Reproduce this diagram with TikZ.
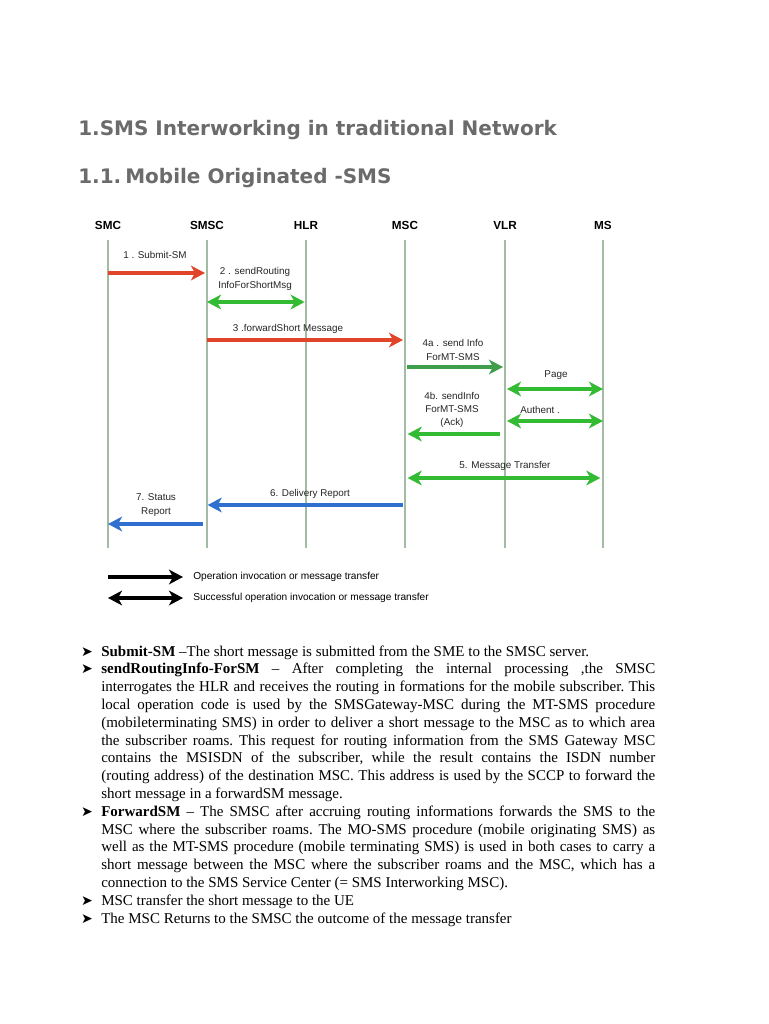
\documentclass[tikz,border=0pt]{standalone}
\usepackage{fontspec}
\setmainfont{Liberation Serif}
\newfontfamily\headfont{DejaVu Sans}
\newfontfamily\diagfont{Liberation Sans}
\newfontfamily\symfont{DejaVu Sans}
\usetikzlibrary{arrows.meta,positioning}

\definecolor{headgray}{HTML}{6B6B6B}
\definecolor{lifegreen}{HTML}{A3BBA3}
\definecolor{msgred}{HTML}{E0452A}
\definecolor{msggreen}{HTML}{33BB33}
\definecolor{msgdkgreen}{HTML}{3E9E4A}
\definecolor{msgblue}{HTML}{2E6FD0}

\begin{document}
\begin{tikzpicture}[
  x=0.75pt, y=-0.75pt,
  heading/.style={anchor=base west, inner sep=0, text=headgray,
    font=\headfont\bfseries\fontsize{15}{18}\selectfont},
  entity/.style={inner sep=0, font=\diagfont\bfseries\fontsize{8.8}{10}\selectfont},
  msglabel/.style={inner sep=0, align=center, text=black!85,
    font=\diagfont\fontsize{7.4}{10}\selectfont},
  life/.style={draw=lifegreen, line width=1pt},
  msg/.style={line width=2.8pt, -{Stealth[length=10.5pt, width=11pt, inset=3pt]}},
  dmsg/.style={line width=2.8pt, {Stealth[length=10.5pt, width=11pt, inset=3pt]}-{Stealth[length=10.5pt, width=11pt, inset=3pt]}},
  legtext/.style={anchor=west, inner sep=0, font=\diagfont\fontsize{7.6}{9}\selectfont},
  item/.style={anchor=base west, inner sep=0, text width=415.5pt, align=justify,
    font=\frenchspacing\fontsize{11.25}{13.35}\selectfont},
  bullet/.style={anchor=base, inner sep=0, font=\symfont\fontsize{10.5}{11}\selectfont}
]
  \useasboundingbox[fill=white] (0,0) rectangle (768,1024);

  % Headings
  \node[heading] (title) at (78,135) {1.SMS Interworking in traditional Network};
  \node[heading] (subtitle) at (78,183) {1.1.\hspace{3pt}Mobile Originated -SMS};

  % Entities and lifelines
  \coordinate (top) at (0,240);
  \coordinate (bottom) at (0,548);
  \foreach \name/\x/\txt in {smc/108/SMC, smsc/207/SMSC, hlr/306/HLR,
                             msc/405/MSC, vlr/505/VLR, ms/603/MS} {
    \node[entity] (\name) at (\x,225) {\txt};
    \draw[life] (\name |- top) -- (\name |- bottom);
  }

  % Message levels
  \coordinate (m1) at (0,273);
  \coordinate (m2) at (0,302);
  \coordinate (m3) at (0,340);
  \coordinate (m4a) at (0,367);
  \coordinate (mpage) at (0,389);
  \coordinate (mauth) at (0,421);
  \coordinate (m4b) at (0,434);
  \coordinate (m5) at (0,478);
  \coordinate (m6) at (0,505);
  \coordinate (m7) at (0,524);

  % Messages
  \draw[msg, msgred, shorten >=1.5pt] (smc |- m1) -- (smsc |- m1);
  \draw[dmsg, msggreen, shorten >=1pt] (smsc |- m2) -- (hlr |- m2);
  \draw[msg, msgred, shorten >=1.5pt] (smsc |- m3) -- (msc |- m3);
  \draw[msg, msgdkgreen, shorten <=1.5pt, shorten >=1.5pt] (msc |- m4a) -- (vlr |- m4a);
  \draw[dmsg, msggreen, shorten <=1.5pt, shorten >=0pt] (vlr |- mpage) -- (ms |- mpage);
  \draw[dmsg, msggreen, shorten <=1.5pt, shorten >=0pt] (vlr |- mauth) -- (ms |- mauth);
  \draw[msg, msggreen, shorten <=4pt, shorten >=2pt] (vlr |- m4b) -- (msc |- m4b);
  \draw[dmsg, msggreen, shorten <=2pt, shorten >=2pt] (msc |- m5) -- (ms |- m5);
  \draw[msg, msgblue, shorten <=1.5pt, shorten >=0.5pt] (msc |- m6) -- (smsc |- m6);
  \draw[msg, msgblue, shorten <=3pt, shorten >=0pt] (smsc |- m7) -- (smc |- m7);

  % Message labels
  \node[msglabel] (l1) at (155,255) {1 . Submit-SM};
  \node[msglabel] (l2) at (255,279) {2 . sendRouting\\InfoForShortMsg};
  \node[msglabel] (l3) at (288,329) {3 .forwardShort Message};
  \node[msglabel] (l4a) at (453,350) {4a . send Info\\ForMT-SMS};
  \node[msglabel] (lpage) at (556,375) {Page};
  \node[msglabel] (l4b) at (452,410) {4b. sendInfo\\ForMT-SMS\\(Ack)};
  \node[msglabel] (lauth) at (540,410) {Authent .};
  \node[msglabel] (l5) at (505,466) {5. Message Transfer};
  \node[msglabel] (l6) at (310,494) {6. Delivery Report};
  \node[msglabel] (l7) at (156,505) {7. Status\\Report};

  % Legend
  \coordinate (lg1) at (108,577);
  \coordinate (lg2) at (108,598);
  \node[legtext] (lt1) at (193,577) {Operation invocation or message transfer};
  \node[legtext] (lt2) at (193,598) {Successful operation invocation or message transfer};
  \draw[msg, black, shorten >=7.5pt] (lg1) -- (lt1.west);
  \draw[dmsg, black, shorten >=7.5pt] (lg2) -- (lt2.west);

  % Bullet list
  \node[item] (it1) at (101,656) {\textbf{Submit-SM} –The short message is submitted from the SME to the SMSC server.};
  \node[item] (it2) at (101,673.8) {\textbf{sendRoutingInfo-ForSM} – After completing the internal processing ,the SMSC\linebreak
    interrogates the HLR and receives the routing in formations for the mobile subscriber. This\linebreak
    local operation code is used by the SMSGateway-MSC during the MT-SMS procedure\linebreak
    (mobileterminating SMS) in order to deliver a short message to the MSC as to which area\linebreak
    the subscriber roams. This request for routing information from the SMS Gateway MSC\linebreak
    contains the MSISDN of the subscriber, while the result contains the ISDN number\linebreak
    (routing address) of the destination MSC. This address is used by the SCCP to forward the\linebreak
    short message in a forwardSM message.};
  \node[item] (it3) at (101,816.2) {\textbf{ForwardSM} – The SMSC after accruing routing informations forwards the SMS to the\linebreak
    MSC where the subscriber roams. The MO-SMS procedure (mobile originating SMS) as\linebreak
    well as the MT-SMS procedure (mobile terminating SMS) is used in both cases to carry a\linebreak
    short message between the MSC where the subscriber roams and the MSC, which has a\linebreak
    connection to the SMS Service Center (= SMS Interworking MSC).};
  \node[item] (it4) at (101,905.2) {MSC transfer the short message to the UE};
  \node[item] (it5) at (101,923) {The MSC Returns to the SMSC the outcome of the message transfer};
  \foreach \n in {1,...,5}
    \node[bullet] (b\n) at (it\n.base west -| 87,0) {➤};
\end{tikzpicture}
\end{document}
